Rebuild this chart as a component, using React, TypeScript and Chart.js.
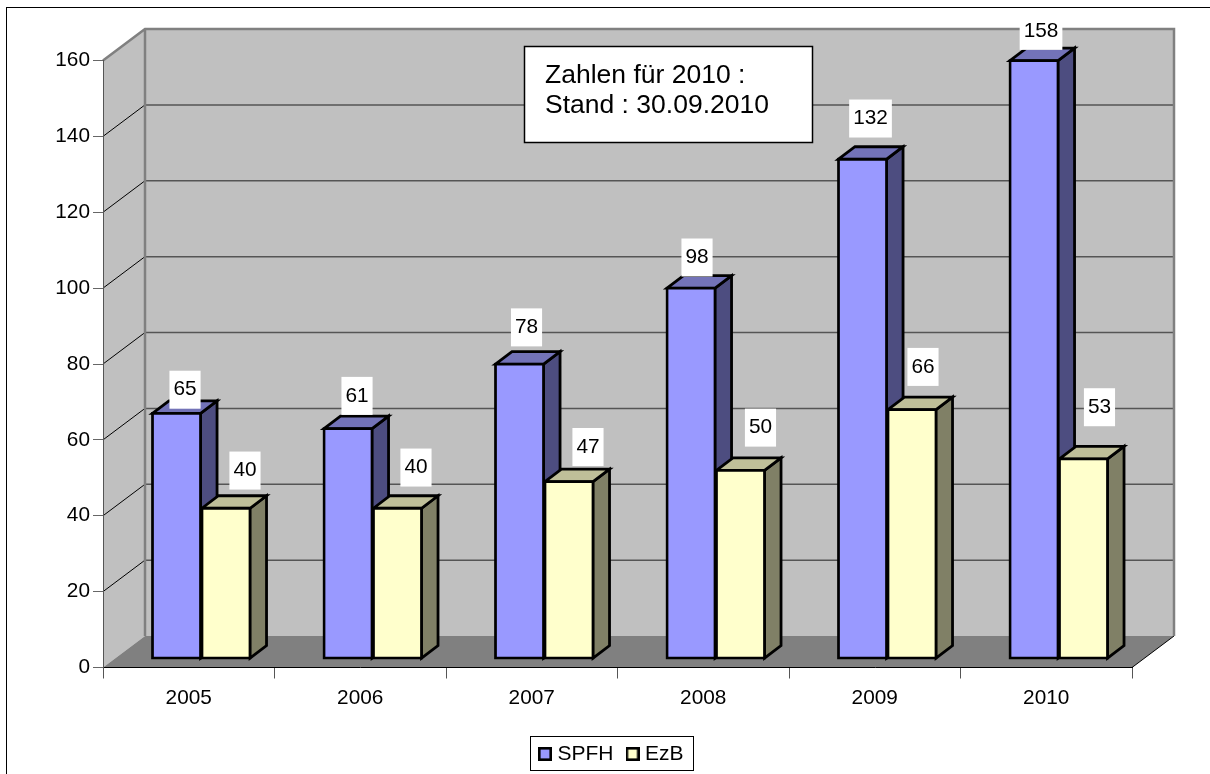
import React, { useEffect, useRef } from "react";
import { Chart, registerables } from "chart.js";

Chart.register(...registerables);

const years = ["2005", "2006", "2007", "2008", "2009", "2010"];
const spfh = [65, 61, 78, 98, 132, 158];
const ezb = [40, 40, 47, 50, 66, 53];
const noteLines = ["Zahlen für 2010 :", "Stand : 30.09.2010"];

// hand-placed value labels in the reference: offset from the bar's top centre
const spfhLabelNudge = [[8.5, -23], [9, -32], [7, -36], [6, -30], [8, -40], [7, -29]];
const ezbLabelNudge = [[19, -37], [18.5, -40], [19, -34], [20, -42], [11, -42], [16, -51]];

const FONT = '"Liberation Sans", Arial, sans-serif';
const WALL_DX = 42;
const WALL_DY = -31.5;
const BAR_DX = 16.5;
const BAR_DY = -12.5;
const SHIFT_X = 12.5;
const SHIFT_Y = -8.2;
const EDGE = 2.8;

function poly(ctx: CanvasRenderingContext2D, pts: number[][]) {
  ctx.beginPath();
  pts.forEach(([x, y], i) => (i ? ctx.lineTo(x, y) : ctx.moveTo(x, y)));
  ctx.closePath();
}

function swatch(fill: string) {
  const c = document.createElement("canvas");
  c.width = 14;
  c.height = 14;
  const g = c.getContext("2d")!;
  g.fillStyle = fill;
  g.fillRect(0, 0, 14, 14);
  g.strokeStyle = "#000";
  g.lineWidth = 2.6;
  g.strokeRect(1.3, 1.3, 11.4, 11.4);
  return c;
}

const scene3d = {
  id: "scene3d",
  afterLayout(chart: any) {
    const l = chart.legend;
    l.left = 526;
    l.right = 1210;
    l.top = 726.5;
  },
  beforeDraw(chart: any) {
    const ctx: CanvasRenderingContext2D = chart.ctx;
    const { left, right } = chart.chartArea;
    const y = chart.scales.y;
    const y0 = y.getPixelForValue(0);
    const yMax = y.getPixelForValue(160);
    ctx.save();
    ctx.fillStyle = "#fff";
    ctx.fillRect(0, 0, chart.width, chart.height);
    ctx.strokeStyle = "#000";
    ctx.lineWidth = 1;
    ctx.strokeRect(6.5, 7.5, 1400, 1000);

    // back wall + side wall
    ctx.fillStyle = "#c0c0c0";
    ctx.fillRect(left + WALL_DX, yMax + WALL_DY, right - left, y0 - yMax);
    poly(ctx, [[left, yMax], [left + WALL_DX, yMax + WALL_DY], [left + WALL_DX, y0 + WALL_DY], [left, y0]]);
    ctx.fill();

    // grid
    for (let v = 20; v < 160; v += 20) {
      const p = y.getPixelForValue(v);
      ctx.strokeStyle = "#000";
      ctx.lineWidth = 1;
      ctx.beginPath();
      ctx.moveTo(left, p);
      ctx.lineTo(left + WALL_DX, p + WALL_DY);
      ctx.stroke();
      ctx.strokeStyle = "#555";
      ctx.lineWidth = 1.5;
      ctx.beginPath();
      ctx.moveTo(left + WALL_DX, p + WALL_DY);
      ctx.lineTo(right + WALL_DX, p + WALL_DY);
      ctx.stroke();
    }

    // floor
    ctx.fillStyle = "#808080";
    poly(ctx, [[left, y0], [left + WALL_DX, y0 + WALL_DY], [right + WALL_DX, y0 + WALL_DY], [right, y0]]);
    ctx.fill();
    ctx.strokeStyle = "#000";
    ctx.lineWidth = 1;
    ctx.beginPath();
    ctx.moveTo(right, y0);
    ctx.lineTo(right + WALL_DX, y0 + WALL_DY);
    ctx.stroke();

    // wall edges
    ctx.strokeStyle = "#808080";
    ctx.lineWidth = 2.5;
    ctx.lineJoin = "miter";
    ctx.beginPath();
    ctx.moveTo(left, yMax);
    ctx.lineTo(left + WALL_DX, yMax + WALL_DY);
    ctx.lineTo(right + WALL_DX, yMax + WALL_DY);
    ctx.lineTo(right + WALL_DX, y0 + WALL_DY);
    ctx.moveTo(left + WALL_DX, yMax + WALL_DY);
    ctx.lineTo(left + WALL_DX, y0 + WALL_DY);
    ctx.stroke();

    // legend frame
    ctx.strokeStyle = "#000";
    ctx.lineWidth = 1;
    ctx.strokeRect(530.5, 736.5, 163, 34);
    ctx.restore();
  },
  beforeDatasetsDraw(chart: any) {
    const ctx: CanvasRenderingContext2D = chart.ctx;
    ctx.save();
    ctx.translate(SHIFT_X, SHIFT_Y);
    const faces = [
      { side: "#4d4d80", top: "#7373b8" },
      { side: "#808066", top: "#bfbf99" },
    ];
    ctx.strokeStyle = "#000";
    ctx.lineWidth = EDGE;
    ctx.lineJoin = "miter";
    [0, 1].forEach((i) => {
      chart.getDatasetMeta(i).data.forEach((el: any) => {
        const { x, y, base, width } = el.getProps(["x", "y", "base", "width"], true);
        const l = x - width / 2 + 0.7;
        const r = x + width / 2 - 0.7;
        const t = y + 0.7;
        const b = base - 0.7;
        ctx.fillStyle = faces[i].side;
        poly(ctx, [[r, t], [r + BAR_DX, t + BAR_DY], [r + BAR_DX, b + BAR_DY], [r, b]]);
        ctx.fill();
        ctx.stroke();
        ctx.fillStyle = faces[i].top;
        poly(ctx, [[l, t], [l + BAR_DX, t + BAR_DY], [r + BAR_DX, t + BAR_DY], [r, t]]);
        ctx.fill();
        ctx.stroke();
      });
    });
  },
  afterDatasetsDraw(chart: any) {
    const ctx: CanvasRenderingContext2D = chart.ctx;
    ctx.restore();
    ctx.save();

    // note box
    ctx.fillStyle = "#fff";
    ctx.fillRect(524.5, 46.5, 288, 96);
    ctx.strokeStyle = "#000";
    ctx.lineWidth = 1.5;
    ctx.strokeRect(524.5, 46.5, 288, 96);
    ctx.fillStyle = "#000";
    ctx.font = `26.5px ${FONT}`;
    ctx.textAlign = "left";
    ctx.textBaseline = "alphabetic";
    noteLines.forEach((s, i) => ctx.fillText(s, 545, 82.5 + i * 30));

    // value labels
    ctx.font = `20.8px ${FONT}`;
    ctx.textAlign = "center";
    ctx.textBaseline = "middle";
    [spfhLabelNudge, ezbLabelNudge].forEach((nudge, i) => {
      const values = i === 0 ? spfh : ezb;
      chart.getDatasetMeta(i).data.forEach((el: any, j: number) => {
        const { x, y } = el.getProps(["x", "y"], true);
        const cx = x + SHIFT_X + nudge[j][0];
        const cy = y + SHIFT_Y + nudge[j][1];
        const text = String(values[j]);
        const w = ctx.measureText(text).width + 8;
        ctx.fillStyle = "#fff";
        ctx.fillRect(cx - w / 2, cy - 19, w, 38);
        ctx.fillStyle = "#000";
        ctx.fillText(text, cx, cy);
      });
    });
    ctx.restore();
  },
};

export default function App() {
  const ref = useRef<HTMLCanvasElement>(null);
  useEffect(() => {
    const swatches = [swatch("#9999ff"), swatch("#ffffcc")];
    const chart = new Chart(ref.current!, {
      type: "bar",
      data: {
        labels: years,
        datasets: [
          { label: "SPFH", data: spfh, backgroundColor: "#9999ff", borderColor: "#000", borderWidth: EDGE, borderSkipped: false, clip: false, inflateAmount: 0.7 } as any,
          { label: "EzB", data: ezb, backgroundColor: "#ffffcc", borderColor: "#000", borderWidth: EDGE, borderSkipped: false, clip: false, inflateAmount: 0.7 } as any,
        ],
      },
      options: {
        responsive: false,
        animation: false,
        layout: { padding: { left: 0, top: 60.5, right: 78, bottom: 0 } },
        datasets: { bar: { barPercentage: 1, categoryPercentage: 0.577 } },
        scales: {
          x: {
            grid: { drawOnChartArea: false, drawTicks: true, tickLength: 11, tickColor: "#555", offset: true },
            border: { display: true, color: "#000", width: 1 },
            ticks: { color: "#000", font: { family: FONT, size: 20.8 }, padding: 7, maxRotation: 0 },
            afterFit(scale: any) {
              scale.height = scale.chart.height - 667.5 - (scale.chart.legend?.height || 0);
            },
          },
          y: {
            min: 0,
            max: 160,
            grid: { drawOnChartArea: false, drawTicks: true, tickLength: 10, tickColor: "#666" },
            border: { display: true, color: "#555", width: 1 },
            ticks: { stepSize: 20, color: "#000", font: { family: FONT, size: 20.8 }, padding: 3 },
            afterFit(scale: any) {
              scale.width = 103;
            },
          },
        },
        plugins: {
          title: { display: false },
          tooltip: { enabled: false },
          legend: {
            display: true,
            position: "bottom",
            align: "start",
            labels: {
              usePointStyle: true,
              pointStyleWidth: 4,
              boxHeight: 14,
              padding: 17,
              color: "#000",
              font: { family: FONT, size: 21 },
              generateLabels(c: any) {
                return Chart.defaults.plugins.legend.labels
                  .generateLabels(c)
                  .map((item: any, i: number) => ({ ...item, pointStyle: swatches[i] }));
              },
            },
          },
        },
      } as any,
      plugins: [scene3d as any],
    });
    return () => chart.destroy();
  }, []);
  return (
    <div style={{ position: "fixed", left: 0, top: 0 }}>
      <canvas ref={ref} width={1210} height={774} style={{ display: "block" }} />
    </div>
  );
}
